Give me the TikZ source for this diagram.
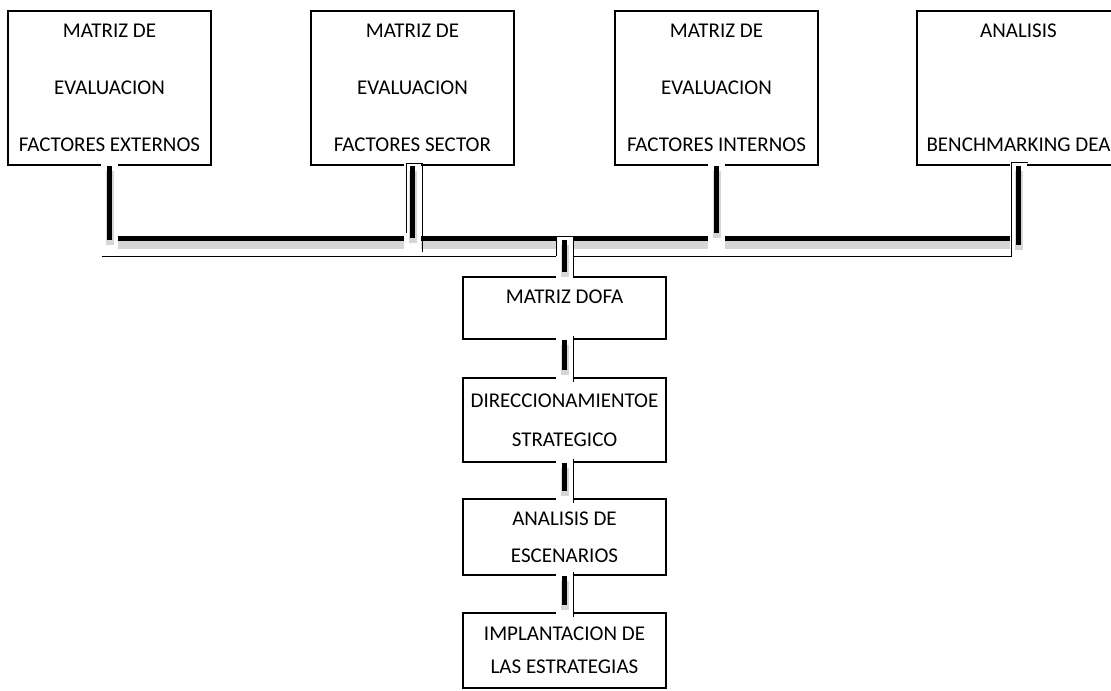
\documentclass[tikz,border=0pt]{standalone}
\usepackage{fontspec}
\setmainfont{Carlito}
\newcommand{\steplink}[2]{\draw[stepconn] (#1.south) -- (#2.north);}

\begin{document}
\begin{tikzpicture}
  [x=0.75pt,y=-0.75pt,
  topbox/.style={rectangle,draw=black,line width=1.8pt,minimum width=152.25pt,minimum height=115.5pt,inner sep=0pt,align=center,font=\fontsize{15.75}{42.75}\selectfont},
  stepbox/.style={rectangle,draw=black,line width=1.8pt,minimum width=152.25pt,inner sep=0pt,align=center,font=\fontsize{15.75}{27.75}\selectfont},
  connector/.style={line width=3.75pt,
    preaction={draw=white,line width=12.75pt,shorten <=-1.5pt,shorten >=#1},
    preaction={draw=gray!32,line width=6pt,transform canvas={shift={(0.5pt,-3.75pt)}}}},
  connector/.default=-1.5pt,
  stepconn/.style={preaction={draw=black,line width=0.75pt,transform canvas={xshift=6.75pt},shorten <=-3pt,shorten >=-3.75pt},connector,shorten >=5.25pt},
  busline/.style={line width=3.75pt,preaction={draw=gray!32,line width=6pt,transform canvas={yshift=-4.5pt}}},
  frameline/.style={draw=black,line width=0.75pt},
  ]
  \useasboundingbox (0,0) rectangle (1111,690);

  % top row
  \node[topbox] (ext) at (109.5,88) {MATRIZ DE\\EVALUACION\\FACTORES EXTERNOS};
  \node[topbox] (sec) at (412.5,88) {MATRIZ DE\\EVALUACION\\FACTORES SECTOR};
  \node[topbox] (int) at (716.5,88) {MATRIZ DE\\EVALUACION\\FACTORES INTERNOS};
  \node[topbox] (dea) at (1018.5,88) {ANALISIS\\[42.75pt]BENCHMARKING DEA};

  % chain
  \node[stepbox,minimum height=46.5pt] (dofa) at (564.5,308) {\raisebox{8.25pt}[\height][\depth]{MATRIZ DOFA}};
  \node[stepbox,minimum height=63pt,font=\fontsize{15.75}{29.25}\selectfont] (dir) at (564.5,420) {DIRECCIONAMIENTOE\\STRATEGICO};
  \node[stepbox,minimum height=57pt] (esc) at (564.5,537) {ANALISIS DE\\ESCENARIOS};
  \node[stepbox,minimum height=56.25pt,font=\fontsize{15.75}{24.75}\selectfont] (impl) at (564.5,650.5) {IMPLANTACION DE\\LAS ESTRATEGIAS};

  \coordinate (bw) at (109.5,238.5);
  \coordinate (be) at (1018.5,238.5);
  \coordinate (j1) at (109.5,240);
  \coordinate (j2) at (412.5,238);
  \coordinate (j3) at (716.5,233);
  \coordinate (j4) at (1018.5,245);
  \coordinate (jd) at (564.5,236);

  \draw[busline] (bw) -- (be);
  \draw[connector=-7.5pt] (ext.south) -- (j1);
  \draw[connector=-9pt] (sec.south) -- (j2);
  \draw[connector=-12.75pt] (int.south) -- (j3);
  \draw[connector=-3.75pt] (dea.south) -- (j4);
  \draw[connector,shorten <=3pt,shorten >=3pt] (jd) -- (dofa.north);
  \steplink{dofa}{dir}
  \steplink{dir}{esc}
  \steplink{esc}{impl}

  % thin frames
  \draw[frameline] (102,256) -- (556,256);
  \draw[frameline] (573,256) -- (1011,256) -- (1011,162) -- (1028,162);
  \draw[frameline] (406,233) -- (406,163) -- (422,163) -- (422,252);
  \draw[frameline] (556,256) -- (556,236) -- (573,236) -- (573,277);
\end{tikzpicture}
\end{document}
